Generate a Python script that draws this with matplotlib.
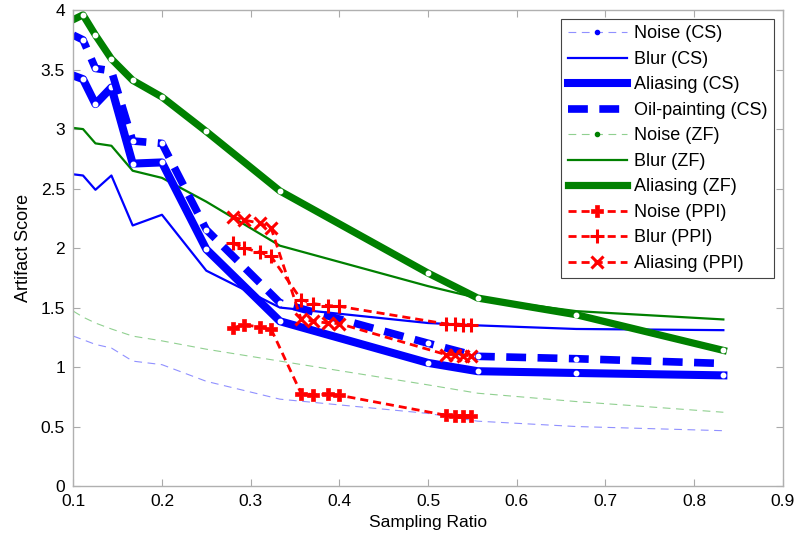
import matplotlib
matplotlib.use("Agg")
import matplotlib.pyplot as plt
from matplotlib.lines import Line2D

plt.rcParams['font.family'] = ['Liberation Sans', 'DejaVu Sans']

ratio = [0.1, 0.111, 0.125, 0.143, 0.167, 0.2, 0.25, 0.333, 0.5, 0.556, 0.667, 0.833]

noise_cs = [1.26, 1.23, 1.19, 1.16, 1.05, 1.02, 0.88, 0.73, 0.61, 0.545, 0.50, 0.465]
blur_cs = [2.62, 2.61, 2.49, 2.61, 2.19, 2.28, 1.81, 1.50, 1.37, 1.35, 1.32, 1.31]
alias_cs = [3.45, 3.42, 3.21, 3.35, 2.71, 2.72, 1.99, 1.385, 1.035, 0.965, 0.95, 0.93]
oil_cs = [3.79, 3.75, 3.51, 3.49, 2.90, 2.88, 2.155, 1.54, 1.20, 1.09, 1.07, 1.03]

noise_zf = [1.47, 1.42, 1.37, 1.32, 1.26, 1.22, 1.15, 1.05, 0.85, 0.78, 0.71, 0.62]
blur_zf = [3.01, 3.00, 2.88, 2.86, 2.65, 2.59, 2.39, 2.02, 1.68, 1.58, 1.47, 1.40]
alias_zf = [3.92, 3.96, 3.79, 3.59, 3.41, 3.27, 2.98, 2.48, 1.79, 1.58, 1.44, 1.14]

ratio_ppi = [0.28, 0.293, 0.31, 0.323, 0.357, 0.37, 0.387, 0.40, 0.52, 0.53, 0.54, 0.548]
noise_ppi = [1.33, 1.357, 1.335, 1.32, 0.777, 0.769, 0.77, 0.763, 0.595, 0.587, 0.587, 0.587]
blur_ppi = [2.04, 2.00, 1.965, 1.93, 1.567, 1.534, 1.517, 1.51, 1.363, 1.363, 1.357, 1.357]
alias_ppi = [2.26, 2.235, 2.21, 2.17, 1.40, 1.385, 1.37, 1.365, 1.105, 1.105, 1.097, 1.097]

labels = ['Noise (CS)', 'Blur (CS)', 'Aliasing (CS)', 'Oil-painting (CS)',
          'Noise (ZF)', 'Blur (ZF)', 'Aliasing (ZF)',
          'Noise (PPI)', 'Blur (PPI)', 'Aliasing (PPI)']

xticks = [0.1, 0.2, 0.3, 0.4, 0.5, 0.6, 0.7, 0.8, 0.9]
yticks = [0, 0.5, 1, 1.5, 2, 2.5, 3, 3.5, 4]

fig = plt.figure(figsize=(7.99, 5.42), dpi=100)
ax = fig.add_axes([0.0917, 0.1033, 0.888, 0.878])

BLUE = '#0000ff'
GREEN = '#008000'
RED = '#ff0000'
wdot = dict(marker='o', markersize=3.2, markerfacecolor='white', markeredgecolor='white',
            markevery=slice(1, None))

ax.plot(ratio, noise_cs, color='#9090ff', lw=0.8, dashes=(7, 5))
ax.plot(ratio, noise_zf, color='#90d090', lw=0.8, dashes=(7, 5))
ax.plot(ratio, blur_cs, color=BLUE, lw=1.6)
ax.plot(ratio, blur_zf, color=GREEN, lw=1.6)
ax.plot(ratio, alias_zf, color=GREEN, lw=5.2, solid_joinstyle='round', **wdot)
ax.plot(ratio, alias_cs, color=BLUE, lw=5.8, solid_joinstyle='round', **wdot)
ax.plot(ratio, oil_cs, color=BLUE, lw=5.5, dashes=(2.6, 1.5), **wdot)

ax.plot(ratio_ppi, noise_ppi, color=RED, lw=2, dashes=(2.9, 1.8), marker='P', markersize=8,
        markeredgewidth=0.5)
ax.plot(ratio_ppi, blur_ppi, color=RED, lw=2, dashes=(2.9, 1.8), marker='+', markersize=10,
        markeredgewidth=2.2)
ax.plot(ratio_ppi, alias_ppi, color=RED, lw=2, dashes=(2.9, 1.8), marker='x', markersize=8,
        markeredgewidth=2.2)

ax.set_xlim(0.1, 0.9)
ax.set_ylim(0, 4)
ax.set_xticks(xticks)
ax.set_xticklabels([f'{t:g}' for t in xticks])
ax.set_yticks(yticks)
ax.set_yticklabels([f'{t:g}' for t in yticks])
ax.tick_params(direction='in', length=5, color='#aaaaaa', labelsize=12.5, top=True, right=True,
               pad=6)
for s in ax.spines.values():
    s.set_color('#b0b0b0')
    s.set_linewidth(1.0)
ax.set_xlabel('Sampling Ratio', fontsize=12.5, labelpad=4)
ax.set_ylabel('Artifact Score', fontsize=13, labelpad=6)

handles = [
    Line2D([], [], color='#9090ff', lw=0.8, dashes=(7, 5), marker='.', markersize=6,
           markerfacecolor=BLUE, markeredgecolor=BLUE),
    Line2D([], [], color=BLUE, lw=1.6),
    Line2D([], [], color=BLUE, lw=5.8),
    Line2D([], [], color=BLUE, lw=5.5, dashes=(2.6, 1.5)),
    Line2D([], [], color='#90d090', lw=0.8, dashes=(7, 5), marker='.', markersize=6,
           markerfacecolor=GREEN, markeredgecolor=GREEN),
    Line2D([], [], color=GREEN, lw=1.6),
    Line2D([], [], color=GREEN, lw=5.2),
    Line2D([], [], color=RED, lw=2, dashes=(2.9, 1.8), marker='P', markersize=8, markeredgewidth=0.5),
    Line2D([], [], color=RED, lw=2, dashes=(2.9, 1.8), marker='+', markersize=10, markeredgewidth=2.2),
    Line2D([], [], color=RED, lw=2, dashes=(2.9, 1.8), marker='x', markersize=8, markeredgewidth=2.2),
]
leg = ax.legend(handles, labels, loc='upper right', bbox_to_anchor=(0.988, 0.981),
                borderaxespad=0, fontsize=13, handlelength=3.3, handletextpad=0.4,
                labelspacing=0.47, fancybox=False, framealpha=1, borderpad=0.35)
leg.get_frame().set_edgecolor('#444444')
leg.get_frame().set_linewidth(0.8)

fig.savefig('out.png', dpi=100)
